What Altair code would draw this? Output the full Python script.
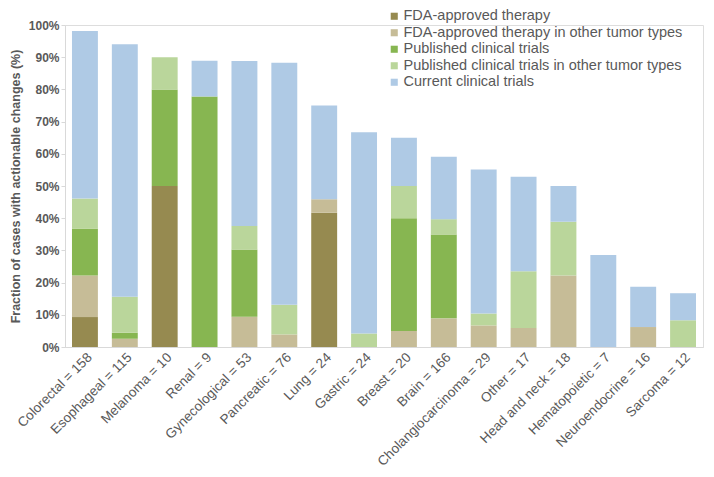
import altair as alt
import pandas as pd

categories = ["Colorectal = 158", "Esophageal = 115", "Melanoma = 10", "Renal = 9",
              "Gynecological = 53", "Pancreatic = 76", "Lung = 24", "Gastric = 24",
              "Breast = 20", "Brain = 166", "Cholangiocarcinoma = 29", "Other = 17",
              "Head and neck = 18", "Hematopoietic = 7", "Neuroendocrine = 16", "Sarcoma = 12"]

series = ["FDA-approved therapy", "FDA-approved therapy in other tumor types",
          "Published clinical trials", "Published clinical trials in other tumor types",
          "Current clinical trials"]

fda =          [9.3, 0.0, 50.0, 0.0, 0.0, 0.0, 41.7, 0.0, 0.0, 0.0, 0.0, 0.0, 0.0, 0.0, 0.0, 0.0]
fda_other =    [12.9, 2.6, 0.0, 0.0, 9.4, 3.9, 4.2, 0.0, 5.0, 8.9, 6.7, 5.9, 22.2, 0.0, 6.2, 0.0]
published =    [14.5, 1.8, 30.0, 77.8, 20.9, 0.0, 0.0, 0.0, 35.0, 26.0, 0.0, 0.0, 0.0, 0.0, 0.0, 0.0]
pub_other =    [9.4, 11.2, 10.0, 0.0, 7.3, 9.2, 0.0, 4.2, 10.0, 4.8, 3.7, 17.6, 16.7, 0.0, 0.0, 8.3]
current =      [52.0, 78.4, 0.0, 11.1, 51.2, 75.2, 29.1, 62.5, 15.0, 19.4, 44.7, 29.4, 11.1, 28.6, 12.5, 8.4]

colors = ["#968A50", "#C6BC97", "#87B651", "#BAD69B", "#AFCAE5"]

rows = []
for si, (name, vals) in enumerate(zip(series, [fda, fda_other, published, pub_other, current])):
    for c, v in zip(categories, vals):
        rows.append({"category": c, "series": name, "value": v, "ord": si})
df = pd.DataFrame(rows)

FONT = "Liberation Sans"
GRAY = "#595959"

chart = alt.Chart(df).mark_bar().encode(
    x=alt.X("category:N", sort=categories,
            scale=alt.Scale(paddingInner=0.35, paddingOuter=0.175),
            axis=alt.Axis(title=None, labelAngle=-45, labelAlign="right", labelBaseline="top",
                          labelFont=FONT, labelFontSize=13.5, labelColor=GRAY,
                          ticks=False, domainColor="#D9D9D9", labelPadding=3)),
    y=alt.Y("value:Q", stack="zero",
            scale=alt.Scale(domain=[0, 100], nice=False),
            axis=alt.Axis(title="Fraction of cases with actionable changes (%)",
                          values=list(range(0, 101, 10)), labelExpr="datum.value + '%'",
                          labelFont=FONT, labelFontSize=12, labelFontWeight="bold", labelColor=GRAY,
                          titleFont=FONT, titleFontSize=12.5, titleFontWeight="bold", titleColor=GRAY,
                          domainColor="#D9D9D9", tickColor="#D9D9D9", tickSize=4, grid=False,
                          titlePadding=6)),
    color=alt.Color("series:N", sort=series,
                    scale=alt.Scale(domain=series, range=colors),
                    legend=alt.Legend(title=None, orient="none", legendX=322, legendY=-16,
                                      symbolType="square", symbolSize=50, symbolStrokeWidth=0,
                                      labelFont=FONT, labelFontSize=14.5, labelColor=GRAY,
                                      rowPadding=1.5, labelOffset=2, labelLimit=400)),
    order=alt.Order("ord:Q", sort="ascending"),
).properties(
    width=638, height=322,
    autosize=alt.AutoSizeParams(type="none"),
    padding={"left": 57, "top": 17, "right": 3, "bottom": 122},
).configure_view(stroke=None).configure(background="white")

chart.save("out.html", embed_options={"renderer": "svg", "actions": False})
